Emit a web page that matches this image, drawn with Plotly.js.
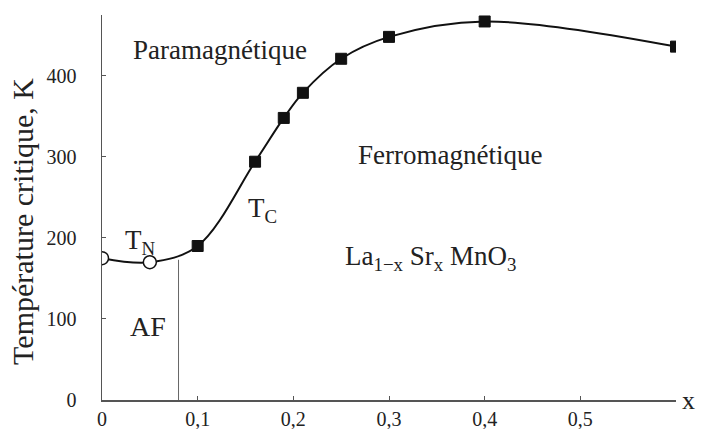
<!DOCTYPE html>
<html>
<head>
<meta charset="utf-8">
<script src="https://cdn.plot.ly/plotly-3.0.1.min.js"></script>
<style>html,body{margin:0;padding:0;background:#fff;}#chart{width:703px;height:429px;}</style>
</head>
<body>
<div id="chart"></div>
<script>
// Néel temperature (AF) points
const tnX = [0, 0.05];
const tnY = [175, 170];
// Curie temperature (ferro) points
const tcX = [0.1, 0.16, 0.19, 0.21, 0.25, 0.30, 0.40, 0.60];
const tcY = [190, 294, 348, 379, 421, 448, 467, 436];
// AF / ferro boundary
const boundaryX = [0.08, 0.08];
const boundaryY = [0, 173];
// axis ticks
const xTickVals = [0, 0.1, 0.2, 0.3, 0.4, 0.5];
const xTickText = ["0", "0,1", "0,2", "0,3", "0,4", "0,5"];
const yTickVals = [0, 100, 200, 300, 400];

const serif = "Liberation Serif, Times New Roman, serif";

const traces = [
  {x: tnX.concat(tcX), y: tnY.concat(tcY), mode: "lines",
   line: {color: "#111", width: 2, shape: "spline", smoothing: 1}, hoverinfo: "skip"},
  {x: boundaryX, y: boundaryY, mode: "lines", line: {color: "#666", width: 1}},
  {x: tnX, y: tnY, mode: "markers",
   marker: {symbol: "circle", size: 13, color: "#fff", line: {color: "#111", width: 1.5}}},
  {x: tcX, y: tcY, mode: "markers",
   marker: {symbol: "square", size: 11, color: "#111", line: {color: "#111", width: 1}}}
];

const txt = (x, y, text, size, extra) => Object.assign({
  x: x, y: y, xref: "x", yref: "y", text: text, showarrow: false,
  font: {family: serif, size: size, color: "#222"}
}, extra || {});

const layout = {
  width: 703, height: 429,
  margin: {l: 102, r: 27, t: 15, b: 29},
  paper_bgcolor: "#fff", plot_bgcolor: "#fff",
  showlegend: false,
  font: {family: serif, color: "#222"},
  xaxis: {
    range: [0, 0.6], showgrid: false, zeroline: false,
    showline: true, linecolor: "#555", linewidth: 1.5,
    ticks: "inside", ticklen: 4, tickcolor: "#555",
    tickvals: xTickVals, ticktext: xTickText,
    tickfont: {family: serif, size: 20, color: "#222"}
  },
  yaxis: {
    range: [0, 475], showgrid: false, zeroline: false,
    showline: true, linecolor: "#555", linewidth: 1.5,
    ticks: "inside", ticklen: 4, tickcolor: "#555",
    tickvals: yTickVals, ticklabelstandoff: 20,
    tickfont: {family: serif, size: 20, color: "#222"}
  },
  annotations: [
    {x: -0.139, y: 220, xref: "paper", yref: "y", text: "Température critique, K",
     textangle: -90, showarrow: false, xanchor: "center", yanchor: "middle",
     font: {family: serif, size: 30, color: "#222"}},
    txt(0.123, 432, "Paramagnétique", 27),
    txt(0.364, 302, "Ferromagnétique", 27),
    txt(0.252, 175, "La<sub>1−x</sub> Sr<sub>x</sub> MnO<sub>3</sub>", 27, {xanchor: "left"}),
    txt(0.04, 195, "T<sub>N</sub>", 27),
    txt(0.168, 235, "T<sub>C</sub>", 27),
    txt(0.048, 91, "AF", 28),
    {x: 1.037, y: 0, xref: "paper", yref: "y", text: "x", showarrow: false,
     font: {family: serif, size: 26, color: "#222"}}
  ]
};

Plotly.newPlot("chart", traces, layout, {displayModeBar: false, staticPlot: true});
</script>
</body>
</html>
